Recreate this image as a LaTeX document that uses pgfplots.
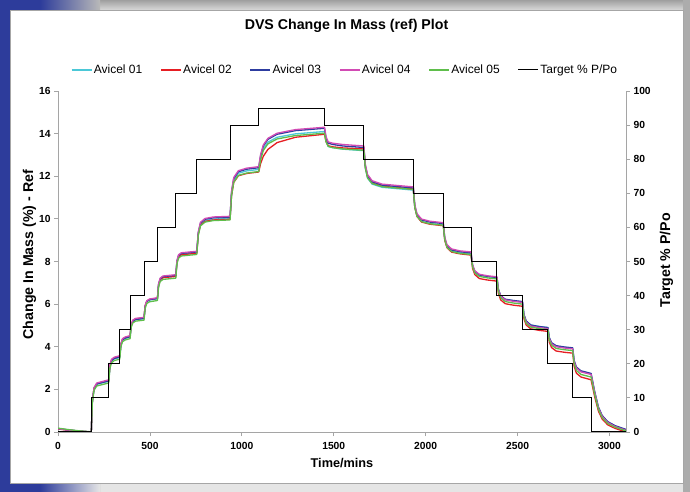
\documentclass[border=0pt]{standalone}
\usepackage{pgfplots}
\pgfplotsset{compat=1.18}
\usepackage{pgfplotstable}
\usepackage{fontspec}
\setmainfont{Liberation Sans}

\definecolor{cA}{RGB}{75,200,215}
\definecolor{cB}{RGB}{230,30,35}
\definecolor{cC}{RGB}{45,60,160}
\definecolor{cD}{RGB}{210,75,180}
\definecolor{cE}{RGB}{95,190,75}
\definecolor{bgblue}{RGB}{45,60,155}
\definecolor{axgray}{RGB}{165,165,165}

\pgfplotstableread{
t a1 a2 a3 a4 a5
0 0.15 0.14 0.16 0.15 0.18
60 0.09 0.08 0.09 0.09 0.11
120 0.04 0.04 0.04 0.04 0.05
181 0.00 0.00 0.00 0.00 0.01
187 1.43 1.45 1.44 1.47 1.38
196 2.02 2.06 2.04 2.08 1.96
211 2.24 2.27 2.26 2.30 2.16
276 2.38 2.42 2.40 2.45 2.30
282 3.05 3.10 3.07 3.13 2.97
291 3.33 3.38 3.35 3.41 3.25
306 3.43 3.48 3.45 3.51 3.35
336 3.50 3.55 3.52 3.58 3.42
342 4.07 4.12 4.09 4.14 4.00
351 4.31 4.36 4.33 4.38 4.24
366 4.39 4.44 4.41 4.46 4.32
392 4.45 4.50 4.47 4.52 4.38
398 4.97 5.02 4.99 5.04 4.90
407 5.19 5.23 5.20 5.25 5.12
422 5.27 5.31 5.28 5.33 5.20
468 5.32 5.36 5.33 5.38 5.25
474 5.88 5.91 5.89 5.93 5.80
483 6.11 6.14 6.13 6.16 6.03
498 6.19 6.22 6.21 6.24 6.11
541 6.25 6.28 6.27 6.30 6.17
547 6.89 6.89 6.92 6.95 6.80
556 7.16 7.15 7.19 7.22 7.06
571 7.26 7.24 7.29 7.32 7.16
641 7.32 7.30 7.35 7.38 7.22
647 7.98 7.95 8.01 8.04 7.89
656 8.26 8.22 8.29 8.32 8.16
671 8.35 8.32 8.38 8.41 8.26
755 8.42 8.38 8.45 8.48 8.33
763 9.30 9.26 9.35 9.38 9.22
775 9.75 9.71 9.80 9.84 9.67
800 9.92 9.88 9.98 10.02 9.85
845 9.99 9.95 10.05 10.09 9.92
936 10.02 9.98 10.08 10.12 9.95
944 11.17 11.09 11.24 11.29 11.09
956 11.81 11.71 11.89 11.94 11.72
981 12.14 12.02 12.21 12.26 12.04
1026 12.25 12.13 12.33 12.38 12.15
1092 12.32 12.20 12.40 12.45 12.22
1102 12.85 12.59 12.96 13.01 12.76
1117 13.30 12.94 13.42 13.47 13.21
1142 13.60 13.26 13.73 13.78 13.52
1192 13.83 13.58 13.97 14.02 13.75
1292 13.99 13.83 14.14 14.19 13.91
1450 14.10 13.97 14.25 14.30 14.02
1458 13.65 13.63 13.80 13.86 13.62
1470 13.40 13.43 13.55 13.61 13.40
1495 13.34 13.38 13.49 13.55 13.34
1550 13.27 13.33 13.42 13.49 13.28
1664 13.20 13.28 13.35 13.42 13.22
1672 12.37 12.43 12.50 12.56 12.39
1684 11.91 11.96 12.02 12.08 11.93
1709 11.63 11.68 11.74 11.79 11.66
1764 11.48 11.53 11.58 11.63 11.51
1933 11.35 11.40 11.45 11.50 11.38
1941 10.54 10.54 10.62 10.66 10.54
1953 10.13 10.11 10.20 10.24 10.12
1978 9.88 9.85 9.95 9.99 9.87
2023 9.78 9.75 9.85 9.89 9.77
2096 9.72 9.68 9.78 9.82 9.70
2104 9.04 8.99 9.09 9.14 9.02
2116 8.69 8.65 8.75 8.79 8.67
2141 8.49 8.44 8.54 8.59 8.47
2186 8.41 8.36 8.46 8.50 8.38
2247 8.35 8.30 8.40 8.45 8.33
2255 7.80 7.69 7.83 7.87 7.76
2267 7.53 7.39 7.54 7.57 7.47
2292 7.36 7.20 7.37 7.40 7.30
2337 7.29 7.13 7.30 7.33 7.23
2388 7.25 7.08 7.25 7.28 7.18
2396 6.68 6.49 6.69 6.68 6.59
2408 6.39 6.20 6.40 6.38 6.30
2433 6.22 6.02 6.23 6.20 6.12
2478 6.15 5.95 6.17 6.13 6.05
2527 6.10 5.90 6.12 6.08 6.00
2535 5.50 5.31 5.51 5.47 5.40
2547 5.20 5.02 5.21 5.16 5.10
2572 5.02 4.84 5.02 4.97 4.92
2617 4.95 4.77 4.95 4.90 4.85
2665 4.90 4.72 4.90 4.85 4.80
2673 4.41 4.21 4.43 4.38 4.31
2685 4.17 3.96 4.19 4.14 4.07
2710 4.02 3.80 4.05 4.00 3.92
2755 3.96 3.74 3.99 3.94 3.86
2800 3.92 3.70 3.95 3.90 3.82
2808 3.32 3.08 3.35 3.30 3.20
2820 3.02 2.76 3.05 3.00 2.89
2845 2.84 2.58 2.87 2.82 2.70
2900 2.72 2.45 2.75 2.70 2.58
2920 1.86 1.64 1.88 1.84 1.75
2940 1.15 0.98 1.17 1.13 1.06
2960 0.76 0.61 0.78 0.74 0.68
2990 0.47 0.34 0.49 0.45 0.40
3030 0.28 0.17 0.30 0.26 0.23
3090 0.10 0.00 0.12 0.08 0.05
}\massdata

\pgfplotstableread{
t p
0 0
181 0
181 10
276 10
276 20
336 20
336 30
392 30
392 40
468 40
468 50
541 50
541 60
641 60
641 70
755 70
755 80
936 80
936 90
1092 90
1092 95
1450 95
1450 90
1664 90
1664 80
1933 80
1933 70
2096 70
2096 60
2247 60
2247 50
2388 50
2388 40
2527 40
2527 30
2665 30
2665 20
2800 20
2800 10
2900 10
2900 0
3090 0
}\targetdata

\begin{document}
\begin{tikzpicture}
% background
\fill[gray!55] (0bp,0bp) rectangle (690bp,492bp);
\shade[top color=gray!75, bottom color=gray!30] (0bp,482bp) rectangle (690bp,492bp);
\fill[gray!20] (0bp,0bp) rectangle (690bp,9bp);
\fill[bgblue] (0bp,0bp) rectangle (40bp,492bp);
\shade[left color=bgblue, right color=gray!55] (40bp,0bp) rectangle (100bp,492bp);
\shade[left color=bgblue, right color=gray!20] (40bp,0bp) rectangle (100bp,9bp);
\fill[gray!65] (683bp,0bp) rectangle (690bp,492bp);
\fill[white, draw=gray!70, line width=0.8bp] (10bp,9bp) rectangle (683bp,482bp);

\pgfplotsset{
  every axis/.append style={
    scale only axis, width=568bp, height=341bp,
    at={(58bp,60bp)}, anchor=south west,
    xmin=0, xmax=3090,
    /pgf/number format/assume math mode=true,
    /pgf/number format/1000 sep={},
    scaled ticks=false,
    tick label style={font=\fontsize{10.3bp}{12bp}\selectfont\bfseries},
    axis line style={draw=axgray, line width=0.8bp},
    tick style={draw=axgray, line width=0.8bp},
    tick align=outside,
    major tick length=4bp,
  }
}

\begin{axis}[
  axis x line*=bottom, axis y line*=left,
  ymin=0, ymax=16,
  xtick={0,500,...,3000},
  ytick={0,2,...,16},
  xticklabel style={yshift=-3bp},
  xlabel={Time/mins},
  ylabel={Change In Mass (\%) - Ref},
  xlabel style={font=\fontsize{12.7bp}{14bp}\selectfont\bfseries, at={(axis description cs:0.5,-0.1035)}, anchor=base},
  ylabel style={font=\fontsize{14.2bp}{16bp}\selectfont\bfseries, at={(axis description cs:-0.044,0.52)}, anchor=base},
  title={DVS Change In Mass (ref) Plot},
  every axis title shift=0pt,
  title style={font=\fontsize{14.2bp}{16bp}\selectfont\bfseries, at={(axis description cs:0.508,1.181)}, anchor=base},
  every axis plot/.append style={line width=1.3bp, line join=round},
]
\addplot[cA] table[x=t, y=a1] {\massdata};
\addplot[cB] table[x=t, y=a2] {\massdata};
\addplot[cC] table[x=t, y=a3] {\massdata};
\addplot[cD] table[x=t, y=a4] {\massdata};
\addplot[cE] table[x=t, y=a5] {\massdata};
\end{axis}

\begin{axis}[
  axis x line=none, axis y line*=right,
  ymin=0, ymax=100,
  ytick={0,10,...,100},
  ylabel={Target \% P/Po},
  ylabel style={font=\fontsize{14.2bp}{16bp}\selectfont\bfseries, at={(axis description cs:1.0775,0.504)}, anchor=base},
  legend columns=6,
  legend style={at={(0.505,1.062)}, anchor=center, draw=none, fill=none,
    font=\fontsize{12bp}{14bp}\selectfont,
    /tikz/every even column/.append style={column sep=16.6bp},
    nodes={inner xsep=1.5bp}},
  legend image code/.code={\draw[#1] (0bp,0bp) -- (20bp,0bp);},
]
\addlegendimage{cA, line width=1.3bp}
\addlegendentry{Avicel 01}
\addlegendimage{cB, line width=1.3bp}
\addlegendentry{Avicel 02}
\addlegendimage{cC, line width=1.3bp}
\addlegendentry{Avicel 03}
\addlegendimage{cD, line width=1.3bp}
\addlegendentry{Avicel 04}
\addlegendimage{cE, line width=1.3bp}
\addlegendentry{Avicel 05}
\addplot[black, line width=1bp] table[x=t, y=p] {\targetdata};
\addlegendentry{Target \% P/Po}
\end{axis}
\end{tikzpicture}
\end{document}
